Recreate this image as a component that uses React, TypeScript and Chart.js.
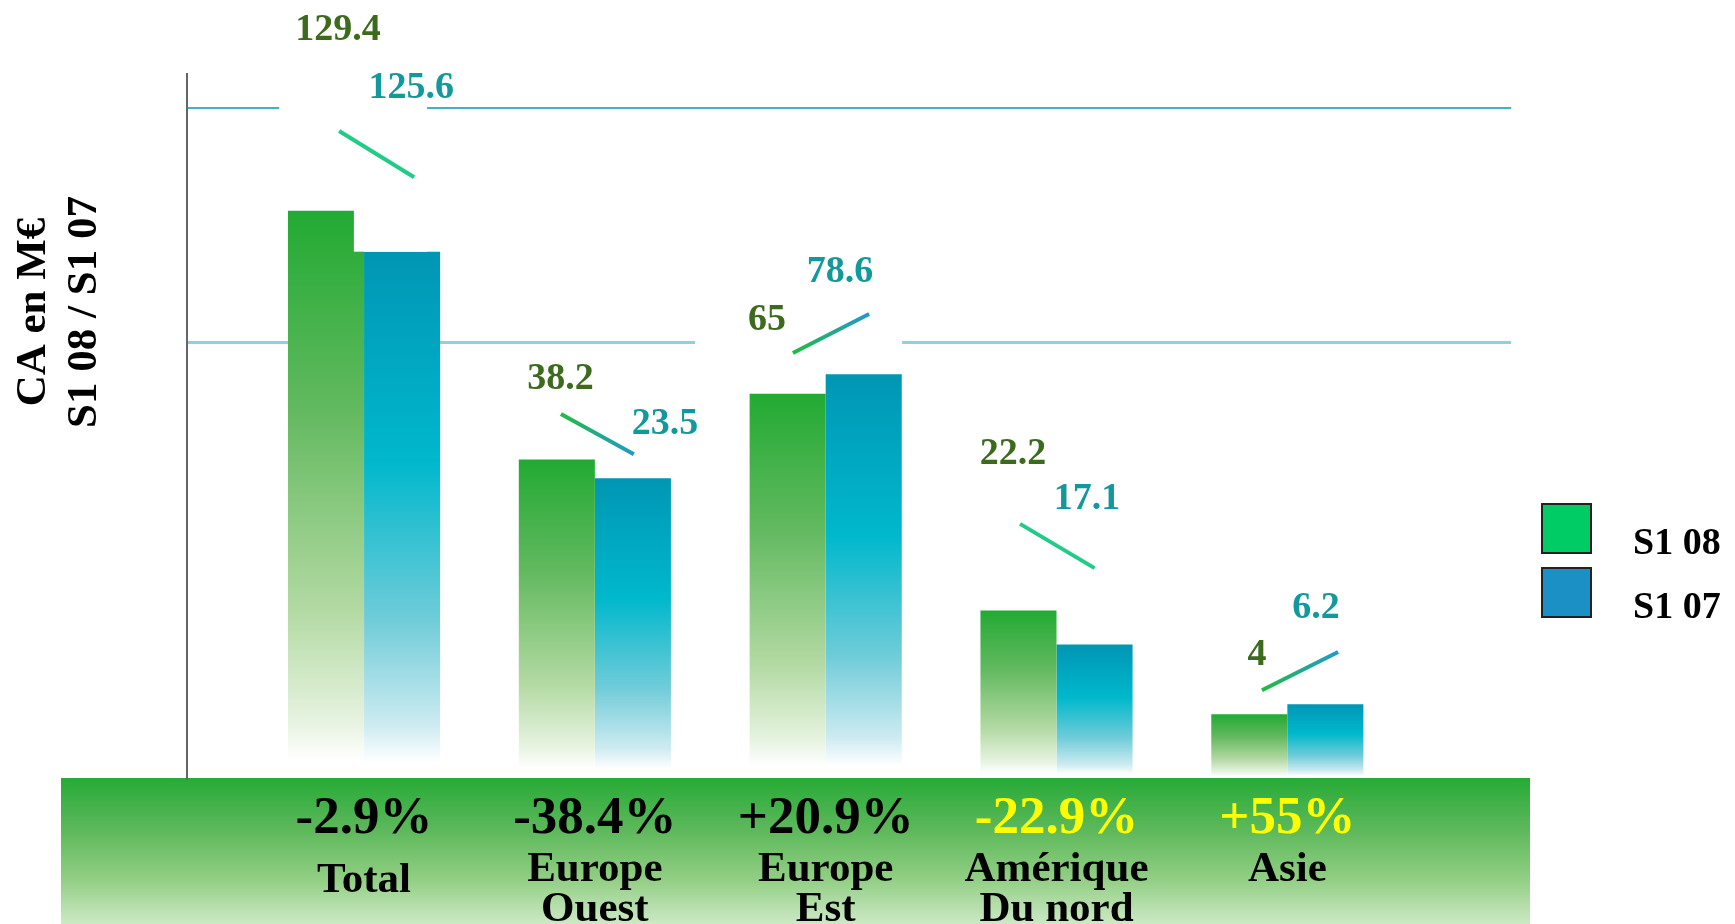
import React, { useEffect, useRef } from "react";
import { Chart, registerables } from "chart.js";

Chart.register(...registerables);

// ---------------- DATA ----------------
const categories: string[][] = [["Total"], ["Europe", "Ouest"], ["Europe", "Est"], ["Amérique", "Du nord"], ["Asie"]];
const seriesNames = ["S1 08", "S1 07"];
const valuesS108 = [129.4, 38.2, 65, 22.2, 4];
const valuesS107 = [125.6, 23.5, 78.6, 17.1, 6.2];
const changeLabels = ["-2.9%", "-38.4%", "+20.9%", "-22.9%", "+55%"];
// The bars of the original picture are not drawn to scale: their heights, read in axis units
const barHeightS108 = [84.6, 47.5, 57.3, 25.0, 9.5];
const barHeightS107 = [78.5, 44.7, 60.2, 19.9, 11.0];
const gridValues = [65, 100];
const yAxisTitle = ["CA en M€", "S1 08 / S1 07"];

// ---------------- LAYOUT / STYLE ----------------
const Y_MAX = 105;
const X_MIN = -0.767;
const X_MAX = 4.969;
const FONT = '"Liberation Serif", "Times New Roman", serif';
const seriesColors = ["#00cc66", "#1a90c4"];
const labelColors = ["#3d6b1e", "#13999b"];
const changeColors = ["#000000", "#000000", "#000000", "#ffff00", "#ffff00"];
const GREEN_STOPS: [number, string][] = [[0, "#22aa33"], [0.35, "#62b95f"], [0.7, "#b2d9a2"], [0.9, "#e6f3e0"], [0.97, "#ffffff"]];
const BLUE_STOPS: [number, string][] = [[0, "#0096b4"], [0.4, "#00b8cc"], [0.7, "#70ccd9"], [0.9, "#cdebf1"], [0.97, "#ffffff"]];
// label anchors (x offset in category units, y in axis units)
const labelLayout = [
  { g: [-0.113, 112.0], b: [0.204, 103.4], s: [-0.108, 96.5, 0.217, 89.6], grad: false },
  { g: [-0.149, 60.0], b: [0.304, 53.2], s: [-0.147, 54.3, 0.169, 48.3], grad: true },
  { g: [-0.254, 68.8], b: [0.062, 75.9], s: [-0.142, 63.4, 0.188, 69.2], grad: true },
  { g: [-0.188, 48.8], b: [0.132, 42.1], s: [-0.158, 37.9, 0.165, 31.3], grad: false },
  { g: [-0.131, 18.8], b: [0.124, 25.8], s: [-0.11, 13.1, 0.22, 18.8], grad: true },
];
// white label backgrounds that interrupt the grid lines (under the bars)
const labelBoxes = [
  { i: 0, x: [-0.368, 0.273], y: [86, 114] },
  { i: 2, x: [-0.566, 0.331], y: [62, 78] },
];
// white label background that clips the top corner of a bar (over the bars)
const overBoxes = [{ i: 0, x: [-0.044, 0.273], y: [78.5, 86] }];
const nameShift = [11, 0, 0, 0, 0];

function barFill(stops: [number, string][], solid: string) {
  return (ctx: any) => {
    const chart = ctx.chart;
    if (!chart.chartArea || ctx.type !== "data" || !ctx.parsed) return solid;
    const y = chart.scales.y;
    const top = y.getPixelForValue(ctx.parsed.y);
    const base = y.getPixelForValue(0);
    const g = chart.ctx.createLinearGradient(0, top, 0, base);
    stops.forEach(([o, c]) => g.addColorStop(o, c));
    return g;
  };
}

function fillBoxes(chart: any, boxes: { i: number; x: number[]; y: number[] }[]) {
  const { ctx } = chart;
  const xs = chart.scales.x;
  const ys = chart.scales.y;
  ctx.save();
  ctx.fillStyle = "#ffffff";
  boxes.forEach((b) => {
    const x0 = xs.getPixelForValue(b.i + b.x[0]);
    const x1 = xs.getPixelForValue(b.i + b.x[1]);
    const y0 = ys.getPixelForValue(b.y[1]);
    const y1 = ys.getPixelForValue(b.y[0]);
    ctx.fillRect(x0, y0, x1 - x0, y1 - y0);
  });
  ctx.restore();
}

const decorPlugin = {
  id: "decor",
  beforeDraw(chart: any) {
    const { ctx, chartArea: a } = chart;
    ctx.save();
    const top = a.bottom;
    const bottom = chart.height;
    const g = ctx.createLinearGradient(0, top, 0, bottom);
    g.addColorStop(0, "#27aa37");
    g.addColorStop(0.35, "#5cb85a");
    g.addColorStop(0.7, "#93cf85");
    g.addColorStop(1, "#cde9c6");
    ctx.fillStyle = g;
    const left = a.left - 126;
    const right = a.right + 19;
    ctx.fillRect(left, top, right - left, bottom - top);
    ctx.restore();
  },
  beforeDatasetsDraw(chart: any) {
    fillBoxes(chart, labelBoxes);
  },
  afterDatasetsDraw(chart: any) {
    fillBoxes(chart, overBoxes);
    const { ctx, chartArea: a } = chart;
    const xs = chart.scales.x;
    const ys = chart.scales.y;
    ctx.save();
    ctx.textAlign = "center";
    ctx.textBaseline = "alphabetic";

    // value labels and slashes
    const vf = 38;
    categories.forEach((_, i) => {
      const L = labelLayout[i];
      ctx.font = `bold ${vf}px ${FONT}`;
      ctx.fillStyle = labelColors[0];
      ctx.fillText(String(valuesS108[i]), xs.getPixelForValue(i + L.g[0]), ys.getPixelForValue(L.g[1]) + vf * 0.34);
      ctx.fillStyle = labelColors[1];
      ctx.fillText(String(valuesS107[i]), xs.getPixelForValue(i + L.b[0]), ys.getPixelForValue(L.b[1]) + vf * 0.34);
      const x1 = xs.getPixelForValue(i + L.s[0]);
      const y1 = ys.getPixelForValue(L.s[1]);
      const x2 = xs.getPixelForValue(i + L.s[2]);
      const y2 = ys.getPixelForValue(L.s[3]);
      if (L.grad) {
        const g = ctx.createLinearGradient(x1, y1, x2, y2);
        g.addColorStop(0, "#22bb44");
        g.addColorStop(1, "#2299cc");
        ctx.strokeStyle = g;
      } else {
        ctx.strokeStyle = "#22cc88";
      }
      ctx.lineWidth = 4;
      ctx.lineCap = "butt";
      ctx.beginPath();
      ctx.moveTo(x1, y1);
      ctx.lineTo(x2, y2);
      ctx.stroke();
    });

    // change percentages and category names in the band
    categories.forEach((lines, i) => {
      const cx = xs.getPixelForValue(i);
      ctx.font = `bold 53px ${FONT}`;
      ctx.fillStyle = changeColors[i];
      ctx.fillText(changeLabels[i], cx, a.bottom + 55);
      ctx.font = `bold 43px ${FONT}`;
      ctx.fillStyle = "#000000";
      lines.forEach((t, k) => {
        ctx.fillText(t, cx, a.bottom + 103 + nameShift[i] + k * 40);
      });
    });

    // legend
    chart.data.datasets.forEach((ds: any, k: number) => {
      const bx = a.right + 31;
      const by = a.top + 430 + k * 64;
      ctx.fillStyle = seriesColors[k];
      ctx.fillRect(bx, by, 49, 49);
      ctx.strokeStyle = "#222222";
      ctx.lineWidth = 2;
      ctx.strokeRect(bx, by, 49, 49);
      ctx.fillStyle = "#000000";
      ctx.font = `bold 38px ${FONT}`;
      ctx.textAlign = "left";
      ctx.fillText(ds.label, a.right + 122, by + 50);
      ctx.textAlign = "center";
    });

    // y axis title
    ctx.font = `bold 43px ${FONT}`;
    ctx.fillStyle = "#000000";
    const ty = a.top + 238;
    [a.left - 153, a.left - 102].forEach((tx, k) => {
      ctx.save();
      ctx.translate(tx, ty);
      ctx.rotate(-Math.PI / 2);
      ctx.textBaseline = "middle";
      ctx.fillText(yAxisTitle[k], 0, 0);
      ctx.restore();
    });
    ctx.restore();
  },
};

export default function App() {
  const ref = useRef<HTMLCanvasElement>(null);
  useEffect(() => {
    const canvas = ref.current!;
    const chart = new Chart(canvas, {
      type: "bar",
      data: {
        datasets: [
          {
            label: seriesNames[0],
            data: barHeightS108.map((h, i) => ({ x: i, y: h })),
            backgroundColor: barFill(GREEN_STOPS, seriesColors[0]),
            borderWidth: 0,
            categoryPercentage: 0.659,
            barPercentage: 1,
          },
          {
            label: seriesNames[1],
            data: barHeightS107.map((h, i) => ({ x: i, y: h })),
            backgroundColor: barFill(BLUE_STOPS, seriesColors[1]),
            borderWidth: 0,
            categoryPercentage: 0.659,
            barPercentage: 1,
          },
        ] as any,
      },
      options: {
        responsive: false,
        animation: false,
        layout: { padding: { left: 187, right: 224, top: 74, bottom: 146 } },
        plugins: { legend: { display: false }, tooltip: { enabled: false }, title: { display: false } },
        scales: {
          x: {
            type: "linear",
            min: X_MIN,
            max: X_MAX,
            offset: false,
            display: false,
            afterBuildTicks: (scale: any) => {
              scale.ticks = categories.map((_, i) => ({ value: i }));
            },
            grid: { display: false, offset: false },
          },
          y: {
            type: "linear",
            min: 0,
            max: Y_MAX,
            afterBuildTicks: (scale: any) => {
              scale.ticks = gridValues.map((v) => ({ value: v }));
            },
            ticks: { display: false },
            grid: {
              drawTicks: false,
              color: (c: any) => (c.tick && c.tick.value === 100 ? "#45b0c1" : "#93cfdb"),
              lineWidth: (c: any) => (c.tick && c.tick.value === 100 ? 2 : 3),
            },
            border: { display: true, color: "#666666", width: 2 },
          },
        },
      } as any,
      plugins: [decorPlugin],
    });
    return () => chart.destroy();
  }, []);
  return (
    <div style={{ position: "absolute", left: 0, top: 0, width: 1735, height: 924, background: "#ffffff" }}>
      <canvas ref={ref} width={1735} height={924} style={{ width: 1735, height: 924, display: "block" }} />
    </div>
  );
}
